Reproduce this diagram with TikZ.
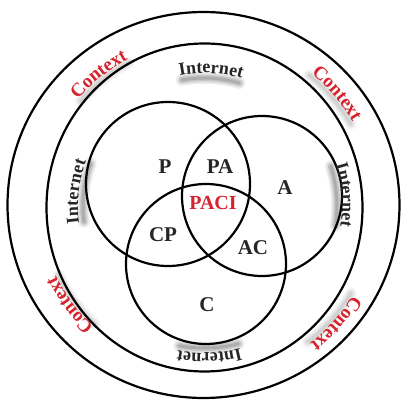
\documentclass[tikz,border=0pt]{standalone}
\usepackage{fontspec}
\setmainfont{Liberation Serif}
\usetikzlibrary{decorations.text,shapes.geometric}
\definecolor{ctxred}{RGB}{215,35,45}
\newcommand{\arclabel}[5]{%
  \path[decorate, decoration={text along path, text align=center, text={#4#5}}]
    (O) ++(#1+#3:#2) arc[start angle=#1+#3, end angle=#1-#3, radius=#2];}
\newcommand{\arcshade}[4]{%
  \foreach \w/\o in {12/0.06, 9/0.08, 6/0.10, 3/0.12}
    \draw[line width=\w pt, line cap=round, black, opacity=\o#4]
      (O) ++(#1+#3:#2) arc[start angle=#1+#3, end angle=#1-#3, radius=#2];}
\begin{document}
\begin{tikzpicture}[x=1pt,y=1pt,
  ring/.style={draw=black, line width=2.2pt, inner sep=0pt, outer sep=0pt},
  lbl/.style={font=\fontsize{21}{21}\selectfont\bfseries, text=black!85},
  core/.style={font=\fontsize{20}{20}\selectfont\bfseries, text=ctxred},
]
\useasboundingbox (0,0) rectangle (405,402);
\fill[white] (0,0) rectangle (405,402);
\coordinate (O) at (204,196);
% concentric rings
\node[ring, ellipse, minimum width=392pt, minimum height=386pt] (outer) at (203.5,197) {};
\node[ring, ellipse, minimum width=316pt, minimum height=328pt] (inner) at (204.5,194.5) {};
% venn circles
\node[ring, circle, minimum size=164pt] (P) at (168,218) {};
\node[ring, circle, minimum size=160pt] (A) at (262,206) {};
\node[ring, circle, minimum size=160pt] (C) at (206,138) {};
% region labels
\node[lbl] (lP) at (165,235) {P};
\node[lbl] (lPA) at (220,235) {PA};
\node[lbl] (lA) at (285,214) {A};
\node[core] (lPACI) at (213,199) {PACI};
\node[lbl] (lCP) at (163,167) {CP};
\node[lbl] (lAC) at (253,154) {AC};
\node[lbl] (lC) at (207,97) {C};
% shadows of ring labels
\arcshade{87}{128}{13}{}
\arcshade{173.5}{121}{14}{}
\arcshade{4.4}{133}{13}{}
\arcshade{272}{142}{12}{}
\arcshade{128.6}{162}{11}{*0.5}
\arcshade{40.2}{168}{11}{*0.5}
\arcshade{216.4}{161}{11}{*0.5}
\arcshade{318.3}{171}{11}{*0.5}
% Internet labels
\arclabel{87}{133}{40}{|\fontsize{18}{18}\selectfont\bfseries\color{black!85}|}{Internet}
\arclabel{173.5}{126}{40}{|\fontsize{18}{18}\selectfont\bfseries\color{black!85}|}{Internet}
\arclabel{4.4}{138}{40}{|\fontsize{18}{18}\selectfont\bfseries\color{black!85}|}{Internet}
\arclabel{272}{147}{40}{|\fontsize{18}{18}\selectfont\bfseries\color{black!85}|}{Internet}
% Context labels
\arclabel{128.6}{165}{40}{|\fontsize{19}{19}\selectfont\bfseries\color{ctxred}|}{Context}
\arclabel{40.2}{170.5}{40}{|\fontsize{19}{19}\selectfont\bfseries\color{ctxred}|}{Context}
\arclabel{216.4}{163.5}{40}{|\fontsize{19}{19}\selectfont\bfseries\color{ctxred}|}{Context}
\arclabel{318.3}{173.5}{40}{|\fontsize{19}{19}\selectfont\bfseries\color{ctxred}|}{Context}
\end{tikzpicture}
\end{document}
